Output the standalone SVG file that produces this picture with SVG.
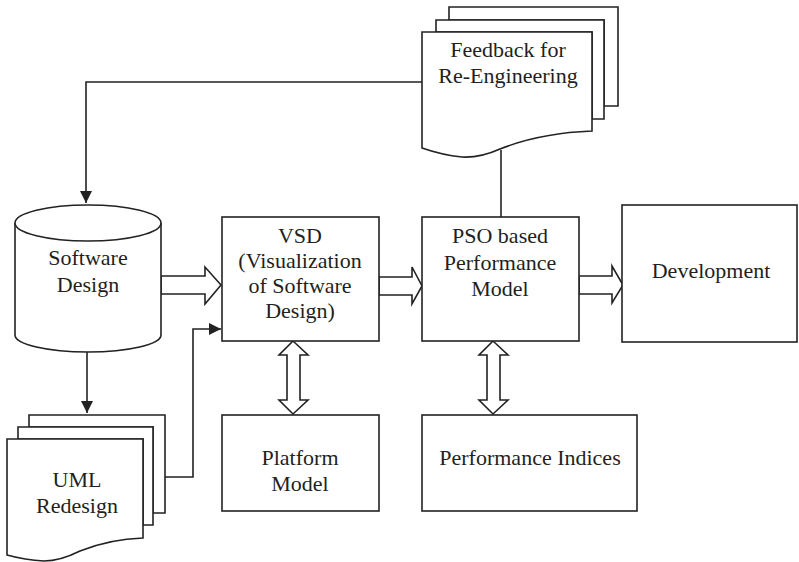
<svg xmlns="http://www.w3.org/2000/svg" width="799" height="562" viewBox="0 0 799 562">
<defs>
<style>
.s{fill:#fff;stroke:#222;stroke-width:1.6}
.l{fill:none;stroke:#222;stroke-width:1.6}
.t{font-size:22px;fill:#231f20;text-anchor:middle}
</style>
<marker id="ah" viewBox="0 0 10 10" refX="10" refY="5" markerWidth="12" markerHeight="12" markerUnits="userSpaceOnUse" orient="auto">
<path d="M0,0 L10,5 L0,10 Z" fill="#222"/>
</marker>
</defs>
<rect width="799" height="562" fill="#fff"/>
<g id="connectors">
<path class="l" d="M422,82 H86 V203" marker-end="url(#ah)"/>
<path class="l" d="M501,150 V217"/>
<path class="l" d="M87,352 V413" marker-end="url(#ah)"/>
<path class="l" d="M150,477 H193 V329 H221" marker-end="url(#ah)"/>
<polygon class="s" points="161,276 205,276 205,267 221,285 205,304 205,294 161,294"/>
<polygon class="s" points="379,277 412,277 412,267 422,286 412,304 412,295 379,295"/>
<polygon class="s" points="579,276 612,276 612,266 623,285 612,303 612,294 579,294"/>
<polygon class="s" points="293,341 308,355 300,355 300,400 308,400 293,414 279,400 287,400 287,355 279,355"/>
<polygon class="s" points="493,341 508,355 500,355 500,400 508,400 493,414 479,400 487,400 487,355 479,355"/>
</g>
<g font-family="Liberation Serif, Tinos, Times New Roman, Times, Noto Serif, DejaVu Serif, FreeSerif, serif">
<g id="feedback">
<path class="s" d="M449,7 H618 V106 H604 V20 H449 Z"/>
<path class="s" d="M436,20 H604 V119 H592 V32 H436 Z"/>
<path class="s" d="M422,32 H592 V131 Q540,133 500,149 Q480,158 462,157 Q442,155 422,148 Z"/>
<text class="t" x="508" y="57">Feedback for</text>
<text class="t" x="508" y="83">Re-Engineering</text>
</g>
<g id="software-design">
<path class="s" d="M15,223 V335 A73,17 0 0 0 161,335 V223"/>
<ellipse class="s" cx="88" cy="223" rx="73" ry="18"/>
<text class="t" x="88" y="265">Software</text>
<text class="t" x="88" y="292">Design</text>
</g>
<g id="uml-redesign">
<path class="s" d="M29,415 H165 V513 H153 V427 H29 Z"/>
<path class="s" d="M18,427 H153 V525 H143 V439 H18 Z"/>
<path class="s" d="M7,439 H143 V538 Q110,539 80,551 Q60,561 44,561 Q25,560 7,555 Z"/>
<text class="t" x="77" y="487">UML</text>
<text class="t" x="77" y="513">Redesign</text>
</g>
<g id="vsd">
<rect class="s" x="222" y="217" width="157" height="124"/>
<text class="t" x="300" y="243">VSD</text>
<text class="t" x="300" y="268">(Visualization</text>
<text class="t" x="300" y="293">of Software</text>
<text class="t" x="300" y="318">Design)</text>
</g>
<g id="pso">
<rect class="s" x="422" y="217" width="157" height="124"/>
<text class="t" x="500" y="243">PSO based</text>
<text class="t" x="500" y="270">Performance</text>
<text class="t" x="500" y="296">Model</text>
</g>
<g id="development">
<rect class="s" x="622" y="205" width="175" height="137"/>
<text class="t" x="711" y="278">Development</text>
</g>
<g id="platform">
<rect class="s" x="222" y="415" width="157" height="96"/>
<text class="t" x="300" y="465">Platform</text>
<text class="t" x="300" y="491">Model</text>
</g>
<g id="performance-indices">
<rect class="s" x="422" y="415" width="215" height="96"/>
<text class="t" x="530" y="465">Performance Indices</text>
</g>
</g>
</svg>
